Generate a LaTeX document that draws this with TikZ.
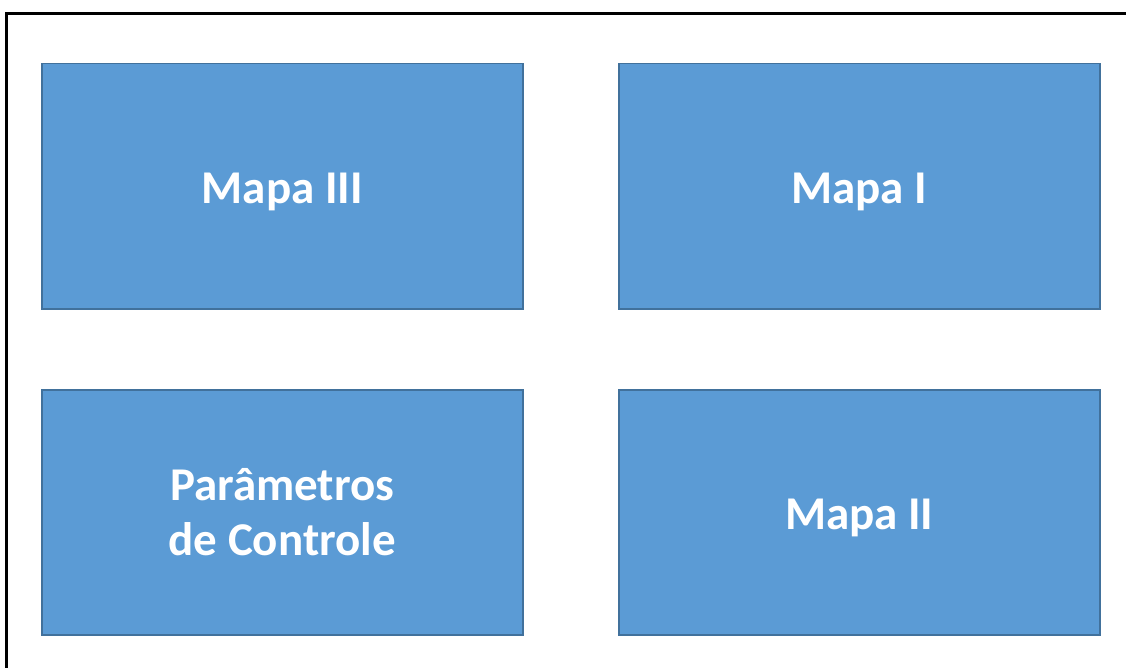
\documentclass[tikz,border=0pt]{standalone}
\usepackage{fontspec}
\setmainfont{Carlito}
\definecolor{boxfill}{HTML}{5B9BD5}
\definecolor{boxline}{HTML}{41719C}
\begin{document}
\begin{tikzpicture}[x=1pt,y=-1pt,
  mapbox/.style={draw=boxline,fill=boxfill,line width=1.5pt,minimum width=481pt,minimum height=245pt,anchor=north west,inner sep=0pt},
  maptext/.style={text=white,align=center,inner sep=0pt,font=\fontsize{47}{55}\selectfont\bfseries}]
\useasboundingbox (0,0) rectangle (1126,668);
\clip (0,0) rectangle (1126,668);
\draw[line width=3pt,black] (6.5,680) -- (6.5,13.5) -- (1140,13.5);
\node[mapbox] (m3) at (41,63) {};
\node[mapbox] (m1) at (618,63) {};
\node[mapbox] (pc) at (41,389) {};
\node[mapbox] (m2) at (618,389) {};
\node[maptext,yshift=-6pt] (t3) at (m3.center) {Mapa III};
\node[maptext,yshift=-6pt] (t1) at (m1.center) {Mapa I};
\node[maptext,yshift=0pt] (tp) at (pc.center) {Parâmetros\\de Controle};
\node[maptext,yshift=-6pt] (t2) at (m2.center) {Mapa II};
\end{tikzpicture}
\end{document}
